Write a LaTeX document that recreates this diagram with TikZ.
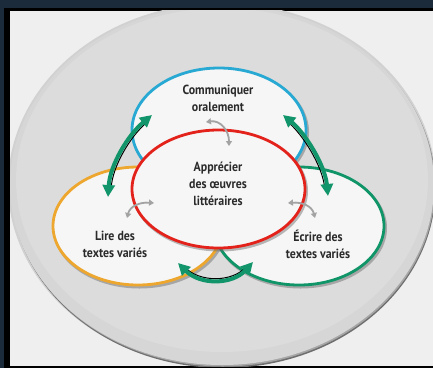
\documentclass[tikz,border=0pt]{standalone}
\usepackage{fontspec}
\setmainfont{PT Sans}
\usetikzlibrary{arrows.meta,shapes.geometric}
\definecolor{navy}{HTML}{1C2B3B}
\definecolor{bgl}{HTML}{EFEFEF}
\definecolor{dish}{HTML}{D6D6D6}
\definecolor{dishin}{HTML}{DCDCDC}
\definecolor{dishrim}{HTML}{6E6E6E}
\definecolor{cblue}{HTML}{27A9D3}
\definecolor{cred}{HTML}{E3231B}
\definecolor{corange}{HTML}{EEA72E}
\definecolor{cgreen}{HTML}{109569}
\definecolor{agreen}{HTML}{12956A}
\definecolor{txt}{HTML}{2A2A2A}
\definecolor{garr}{HTML}{A3A3A3}
\definecolor{innerw}{HTML}{F6F6F6}
\tikzset{
  ring/.style={ellipse, inner sep=0pt, outer sep=0pt, fill=innerw, line width=2.8pt},
  ringshadow/.style={ellipse, inner sep=0pt, outer sep=0pt, draw=black!60, draw opacity=0.45, line width=3pt},
  lbl/.style={font=\addfontfeature{FakeStretch=0.9}\bfseries\fontsize{13.2}{17}\selectfont, text=txt, align=center, inner sep=0pt},
  garrow/.style={draw=agreen, line width=4pt, {Triangle[length=12pt,width=12pt]}-{Triangle[length=12pt,width=12pt]}},
  gshadow/.style={draw=black, line width=1pt, shorten <=10pt, shorten >=10pt},
  sarrow/.style={draw=garr, line width=1.8pt, {Triangle[length=5pt,width=6pt]}-{Triangle[length=5pt,width=6pt]}}
}
\begin{document}
\begin{tikzpicture}[x=1pt,y=-1pt]
\useasboundingbox (0,0) rectangle (433,368);
% frame
\fill[navy] (0,0) rectangle (433,368);
\fill[black] (4,8) rectangle (433,368);
\fill[bgl] (10,10.5) rectangle (433,366);
% dish
\begin{scope}
\clip (10,10.5) rectangle (433,366);
\fill[black!18] (222,185) ellipse [x radius=214pt, y radius=182pt];
\fill[dishrim] (223.5,188) ellipse [x radius=212pt, y radius=180pt];
\fill[black!35] (223,186.5) ellipse [x radius=212pt, y radius=180pt];
\fill[dish] (222,185) ellipse [x radius=212pt, y radius=180pt];
\fill[dishin] (222,180) ellipse [x radius=206pt, y radius=172pt];
\end{scope}
% shadows of rings
\node[ringshadow, minimum width=170pt, minimum height=118pt] (lireS) at (139.5,228) {};
\node[ringshadow, minimum width=170pt, minimum height=118pt] (ecrS) at (300.5,228) {};
% rings
\node[ring, draw=corange, minimum width=170pt, minimum height=118pt] (lireE) at (138,226) {};
\node[ring, draw=cgreen, minimum width=170pt, minimum height=118pt] (ecrE) at (299,226) {};
\node[ringshadow, minimum width=174pt, minimum height=124pt] (comS) at (220.5,132) {};
\node[ring, draw=cblue, minimum width=174pt, minimum height=124pt] (comE) at (219,130) {};
\node[ringshadow, minimum width=173pt, minimum height=118pt] (appS) at (220,191) {};
\node[ring, draw=cred, minimum width=173pt, minimum height=118pt] (appE) at (218.5,189) {};
% labels
\node[lbl] (comT) at (218,98.5) {Communiquer\\oralement};
\node[lbl] (appT) at (218,184) {Apprécier\\des œuvres\\littéraires};
\node[lbl] (lireT) at (115,244) {Lire des\\textes variés};
\node[lbl] (ecrT) at (318,244) {Écrire des\\textes variés};
% green arrows
\coordinate (la) at (152,115); \coordinate (lb) at (108,197);
\coordinate (ra) at (283,115); \coordinate (rb) at (328,196);
\coordinate (ba) at (178,263); \coordinate (bb) at (253,262);
\draw[gshadow, transform canvas={shift={(2.5pt,-1pt)}}] (la) .. controls (128,135) and (110,165) .. (lb);
\draw[garrow] (la) .. controls (128,135) and (110,165) .. (lb);
\draw[gshadow, transform canvas={shift={(-2.5pt,-1pt)}}] (ra) .. controls (305,133) and (325,165) .. (rb);
\draw[garrow] (ra) .. controls (305,133) and (325,165) .. (rb);
\draw[gshadow, transform canvas={shift={(0pt,2.5pt)}}] (ba) .. controls (200,285) and (232,285) .. (bb);
\draw[garrow] (ba) .. controls (200,285) and (232,285) .. (bb);
% small gray arrows
\coordinate (ta) at (206,122); \coordinate (tb) at (229,146);
\coordinate (lla) at (127,218); \coordinate (llb) at (154,203);
\coordinate (rra) at (288,203); \coordinate (rrb) at (315,218);
\draw[sarrow] (ta) .. controls (220,120) and (229,130) .. (tb);
\draw[sarrow] (lla) .. controls (130,206) and (140,202) .. (llb);
\draw[sarrow] (rra) .. controls (302,202) and (312,206) .. (rrb);
\end{tikzpicture}
\end{document}
